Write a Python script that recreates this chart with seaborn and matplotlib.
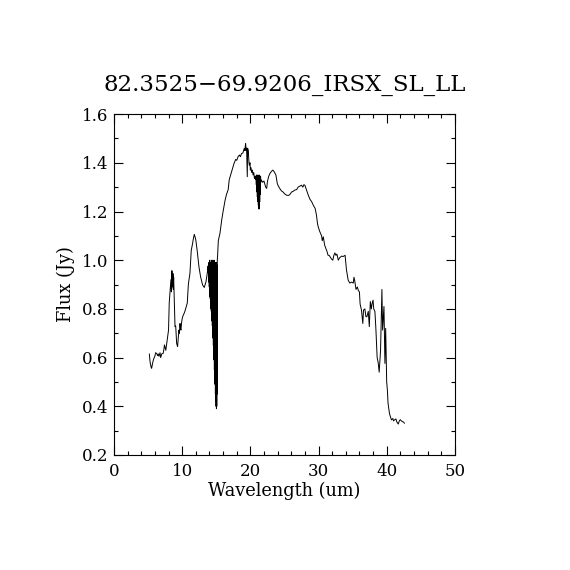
import numpy as np
import pandas as pd
import matplotlib
matplotlib.use("Agg")
import matplotlib.pyplot as plt
import seaborn as sns
from matplotlib.ticker import MultipleLocator

# short-wavelength part (SL), up to the 14 um overlap
blue_wave = [5.18, 5.3, 5.37, 5.45, 5.52, 5.65, 5.77, 5.9, 6.0, 6.1, 6.26, 6.4, 6.5, 6.6,
             6.75, 6.85, 7.0, 7.2, 7.3, 7.4, 7.5, 7.6, 7.7, 7.8, 7.9, 8.0, 8.1, 8.2, 8.3,
             8.35, 8.42, 8.5, 8.55, 8.6, 8.65, 8.7, 8.75, 8.85, 8.95, 9.05, 9.19, 9.33,
             9.45, 9.53, 9.6, 9.68, 9.75, 9.82, 9.9, 10.0, 10.1, 10.26, 10.4, 10.5, 10.75,
             10.9, 11.0, 11.14, 11.33, 11.53, 11.65, 11.78, 11.9, 12.0, 12.2, 12.46, 12.7,
             13.0, 13.24, 13.49, 13.68, 13.8]
blue_flux = [0.615, 0.58, 0.57, 0.56, 0.556, 0.575, 0.59, 0.60, 0.606, 0.62, 0.617, 0.608,
             0.615, 0.605, 0.62, 0.60, 0.615, 0.617, 0.63, 0.652, 0.64, 0.63, 0.65, 0.672,
             0.69, 0.713, 0.824, 0.865, 0.90, 0.92, 0.87, 0.957, 0.90, 0.89, 0.945, 0.88,
             0.93, 0.836, 0.727, 0.73, 0.658, 0.645, 0.69, 0.713, 0.70, 0.74, 0.72, 0.713,
             0.74, 0.76, 0.77, 0.78, 0.79, 0.80, 0.824, 0.898, 0.92, 0.946, 1.04, 1.069,
             1.09, 1.106, 1.095, 1.083, 1.04, 0.973, 0.932, 0.898, 0.888, 0.911, 0.946, 0.975]

# overlap of orders near 14-15 um (zig-zag between the two grids)
overlap1_wave = [13.8, 13.825, 13.85, 13.875, 13.9, 13.925, 13.95, 13.975, 14.0, 14.025,
                 14.05, 14.075, 14.1, 14.125, 14.15, 14.175, 14.2, 14.225, 14.25, 14.275,
                 14.3, 14.325, 14.35, 14.375, 14.4, 14.425, 14.45, 14.475, 14.5, 14.525,
                 14.55, 14.575, 14.6, 14.625, 14.65, 14.675, 14.7, 14.725, 14.75, 14.775,
                 14.8, 14.825, 14.85, 14.875, 14.9, 14.925, 14.95, 14.975, 15.0, 15.025,
                 15.05, 15.075, 15.1, 15.12, 15.15, 15.2]
overlap1_flux = [0.975, 0.95, 0.98, 0.93, 0.99, 0.91, 0.97, 0.89, 0.99, 0.87,
                 1.00, 0.85, 0.97, 0.84, 0.99, 0.82, 0.96, 0.80, 0.99, 0.79,
                 1.00, 0.77, 0.97, 0.75, 0.99, 0.73, 0.98, 0.71, 1.00, 0.68,
                 0.96, 0.65, 0.99, 0.62, 0.98, 0.59, 1.00, 0.55, 0.97, 0.52,
                 0.99, 0.49, 0.96, 0.45, 0.99, 0.42, 0.97, 0.40, 0.99, 0.39,
                 0.95, 0.40, 0.98, 0.45, 1.00, 1.02]

mid_wave = [15.3, 15.54, 15.8, 16.0, 16.3, 16.5, 16.75, 16.9, 17.25, 17.6, 17.85, 18.0,
            18.2, 18.4, 18.55, 18.7, 18.9, 19.1, 19.2, 19.3, 19.4, 19.45, 19.55, 19.6,
            19.7, 19.8, 19.85, 19.95, 20.0, 20.1, 20.2, 20.3, 20.4, 20.5, 20.6, 20.7]
mid_flux = [1.08, 1.11, 1.165, 1.2, 1.247, 1.27, 1.29, 1.33, 1.363, 1.397, 1.414, 1.41,
            1.425, 1.432, 1.425, 1.438, 1.44, 1.459, 1.45, 1.48, 1.45, 1.46, 1.343, 1.46,
            1.45, 1.40, 1.39, 1.40, 1.37, 1.38, 1.36, 1.37, 1.35, 1.36, 1.336, 1.345]

# second overlap near 21 um
overlap2_wave = [20.8, 20.825, 20.85, 20.875, 20.9, 20.925, 20.95, 20.975, 21.0, 21.025,
                 21.05, 21.075, 21.1, 21.125, 21.15, 21.175, 21.2, 21.225, 21.25, 21.275,
                 21.3, 21.325, 21.35, 21.375, 21.4, 21.425, 21.45, 21.475, 21.5, 21.525,
                 21.55]
overlap2_flux = [1.345, 1.33, 1.34, 1.31, 1.35, 1.29, 1.34, 1.28, 1.345, 1.26,
                 1.34, 1.25, 1.35, 1.24, 1.34, 1.225, 1.345, 1.215, 1.34, 1.21,
                 1.35, 1.215, 1.34, 1.24, 1.345, 1.27, 1.34, 1.30, 1.345, 1.32,
                 1.33]

# long-wavelength part (LL)
red_wave = [21.6, 21.8, 22.0, 22.1, 22.25, 22.4, 22.5, 22.7, 22.87, 23.1, 23.3, 23.5,
            23.75, 23.95, 24.1, 24.3, 24.55, 24.8, 25.05, 25.3, 25.6, 25.8, 26.05, 26.3,
            26.5, 26.8, 27.0, 27.3, 27.5, 27.7, 27.85, 28.0, 28.25, 28.5, 28.75, 29.0,
            29.25, 29.5, 29.7, 29.85, 29.96, 30.15, 30.3, 30.45, 30.55, 30.7, 30.9, 31.05,
            31.2, 31.4, 31.55, 31.7, 31.9, 32.1, 32.25, 32.4, 32.55, 32.7, 32.9, 33.1,
            33.4, 33.6, 33.9, 34.1, 34.35, 34.6, 34.85, 35.1, 35.2, 35.3, 35.4, 35.5,
            35.7, 35.85, 36.0, 36.1, 36.3, 36.5, 36.6, 36.8, 36.95, 37.1, 37.3, 37.45,
            37.6, 37.75, 37.85, 38.0, 38.1, 38.27, 38.4, 38.6, 38.75, 38.9, 39.1, 39.3,
            39.4, 39.6, 39.74, 39.85, 40.0, 40.1, 40.2, 40.4, 40.47, 40.7, 40.9, 41.0,
            41.2, 41.35, 41.5, 41.7, 41.85, 42.0, 42.15, 42.3, 42.5, 42.6]
red_flux = [1.33, 1.32, 1.325, 1.315, 1.30, 1.295, 1.322, 1.345, 1.356, 1.365, 1.37, 1.363,
            1.35, 1.315, 1.305, 1.295, 1.285, 1.28, 1.272, 1.267, 1.266, 1.27, 1.28, 1.283,
            1.288, 1.29, 1.30, 1.305, 1.308, 1.30, 1.31, 1.308, 1.288, 1.267, 1.25, 1.24,
            1.225, 1.213, 1.185, 1.15, 1.137, 1.12, 1.11, 1.10, 1.08, 1.096, 1.062, 1.05,
            1.04, 1.02, 1.02, 1.014, 1.005, 1.0, 1.02, 1.03, 1.02, 1.025, 1.0, 1.01,
            1.017, 1.015, 1.02, 0.96, 0.918, 0.906, 0.91, 0.906, 0.93, 0.918, 0.90, 0.88,
            0.89, 0.875, 0.87, 0.82, 0.795, 0.74, 0.795, 0.80, 0.768, 0.768, 0.79, 0.727,
            0.83, 0.80, 0.82, 0.836, 0.80, 0.79, 0.727, 0.60, 0.58, 0.54, 0.63, 0.88,
            0.713, 0.81, 0.576, 0.72, 0.50, 0.467, 0.412, 0.372, 0.364, 0.344, 0.35, 0.34,
            0.345, 0.348, 0.335, 0.327, 0.34, 0.345, 0.34, 0.337, 0.335, 0.33]

title = "82.3525\u221269.9206_IRSX_SL_LL"

wave = blue_wave + overlap1_wave + mid_wave + overlap2_wave + red_wave
flux = blue_flux + overlap1_flux + mid_flux + overlap2_flux + red_flux
spec = pd.DataFrame({"Wavelength": wave, "Flux": flux})

sns.set_style("ticks")
plt.rcParams["font.family"] = ["DejaVu Serif", "DejaVu Sans"]
plt.rcParams["axes.linewidth"] = 0.8
plt.rcParams["text.color"] = "black"
plt.rcParams["axes.labelcolor"] = "black"

fig = plt.figure(figsize=(5.7, 5.7), dpi=100)
ax = fig.add_axes([0.2, 0.2018, 0.598, 0.598])

sns.lineplot(data=spec, x="Wavelength", y="Flux", sort=False, estimator=None,
             color="black", linewidth=0.7, ax=ax)

ax.set_xlim(0, 50)
ax.set_ylim(0.2, 1.6)
ax.xaxis.set_major_locator(MultipleLocator(10))
ax.xaxis.set_minor_locator(MultipleLocator(2))
ax.yaxis.set_major_locator(MultipleLocator(0.2))
ax.yaxis.set_minor_locator(MultipleLocator(0.1))
ax.xaxis.set_major_formatter(plt.FuncFormatter(lambda v, p: "%d" % v))
ax.yaxis.set_major_formatter(plt.FuncFormatter(lambda v, p: "%.1f" % v))

ax.tick_params(which="both", direction="in", top=True, right=True, width=0.8,
               colors="black", labelsize=12)
ax.tick_params(which="major", length=6.5)
ax.tick_params(which="minor", length=3)
ax.tick_params(axis="x", pad=6)
ax.tick_params(axis="y", pad=4)
for s in ax.spines.values():
    s.set_visible(True)
    s.set_color("black")

ax.set_xlabel("Wavelength (um)", fontsize=12.8, labelpad=1, color="black")
ax.set_ylabel("Flux (Jy)", fontsize=12.8, labelpad=5, color="black")
ax.set_title(title, fontsize=16.5, pad=17, color="black")

fig.savefig("out.png", dpi=100, facecolor="white")
